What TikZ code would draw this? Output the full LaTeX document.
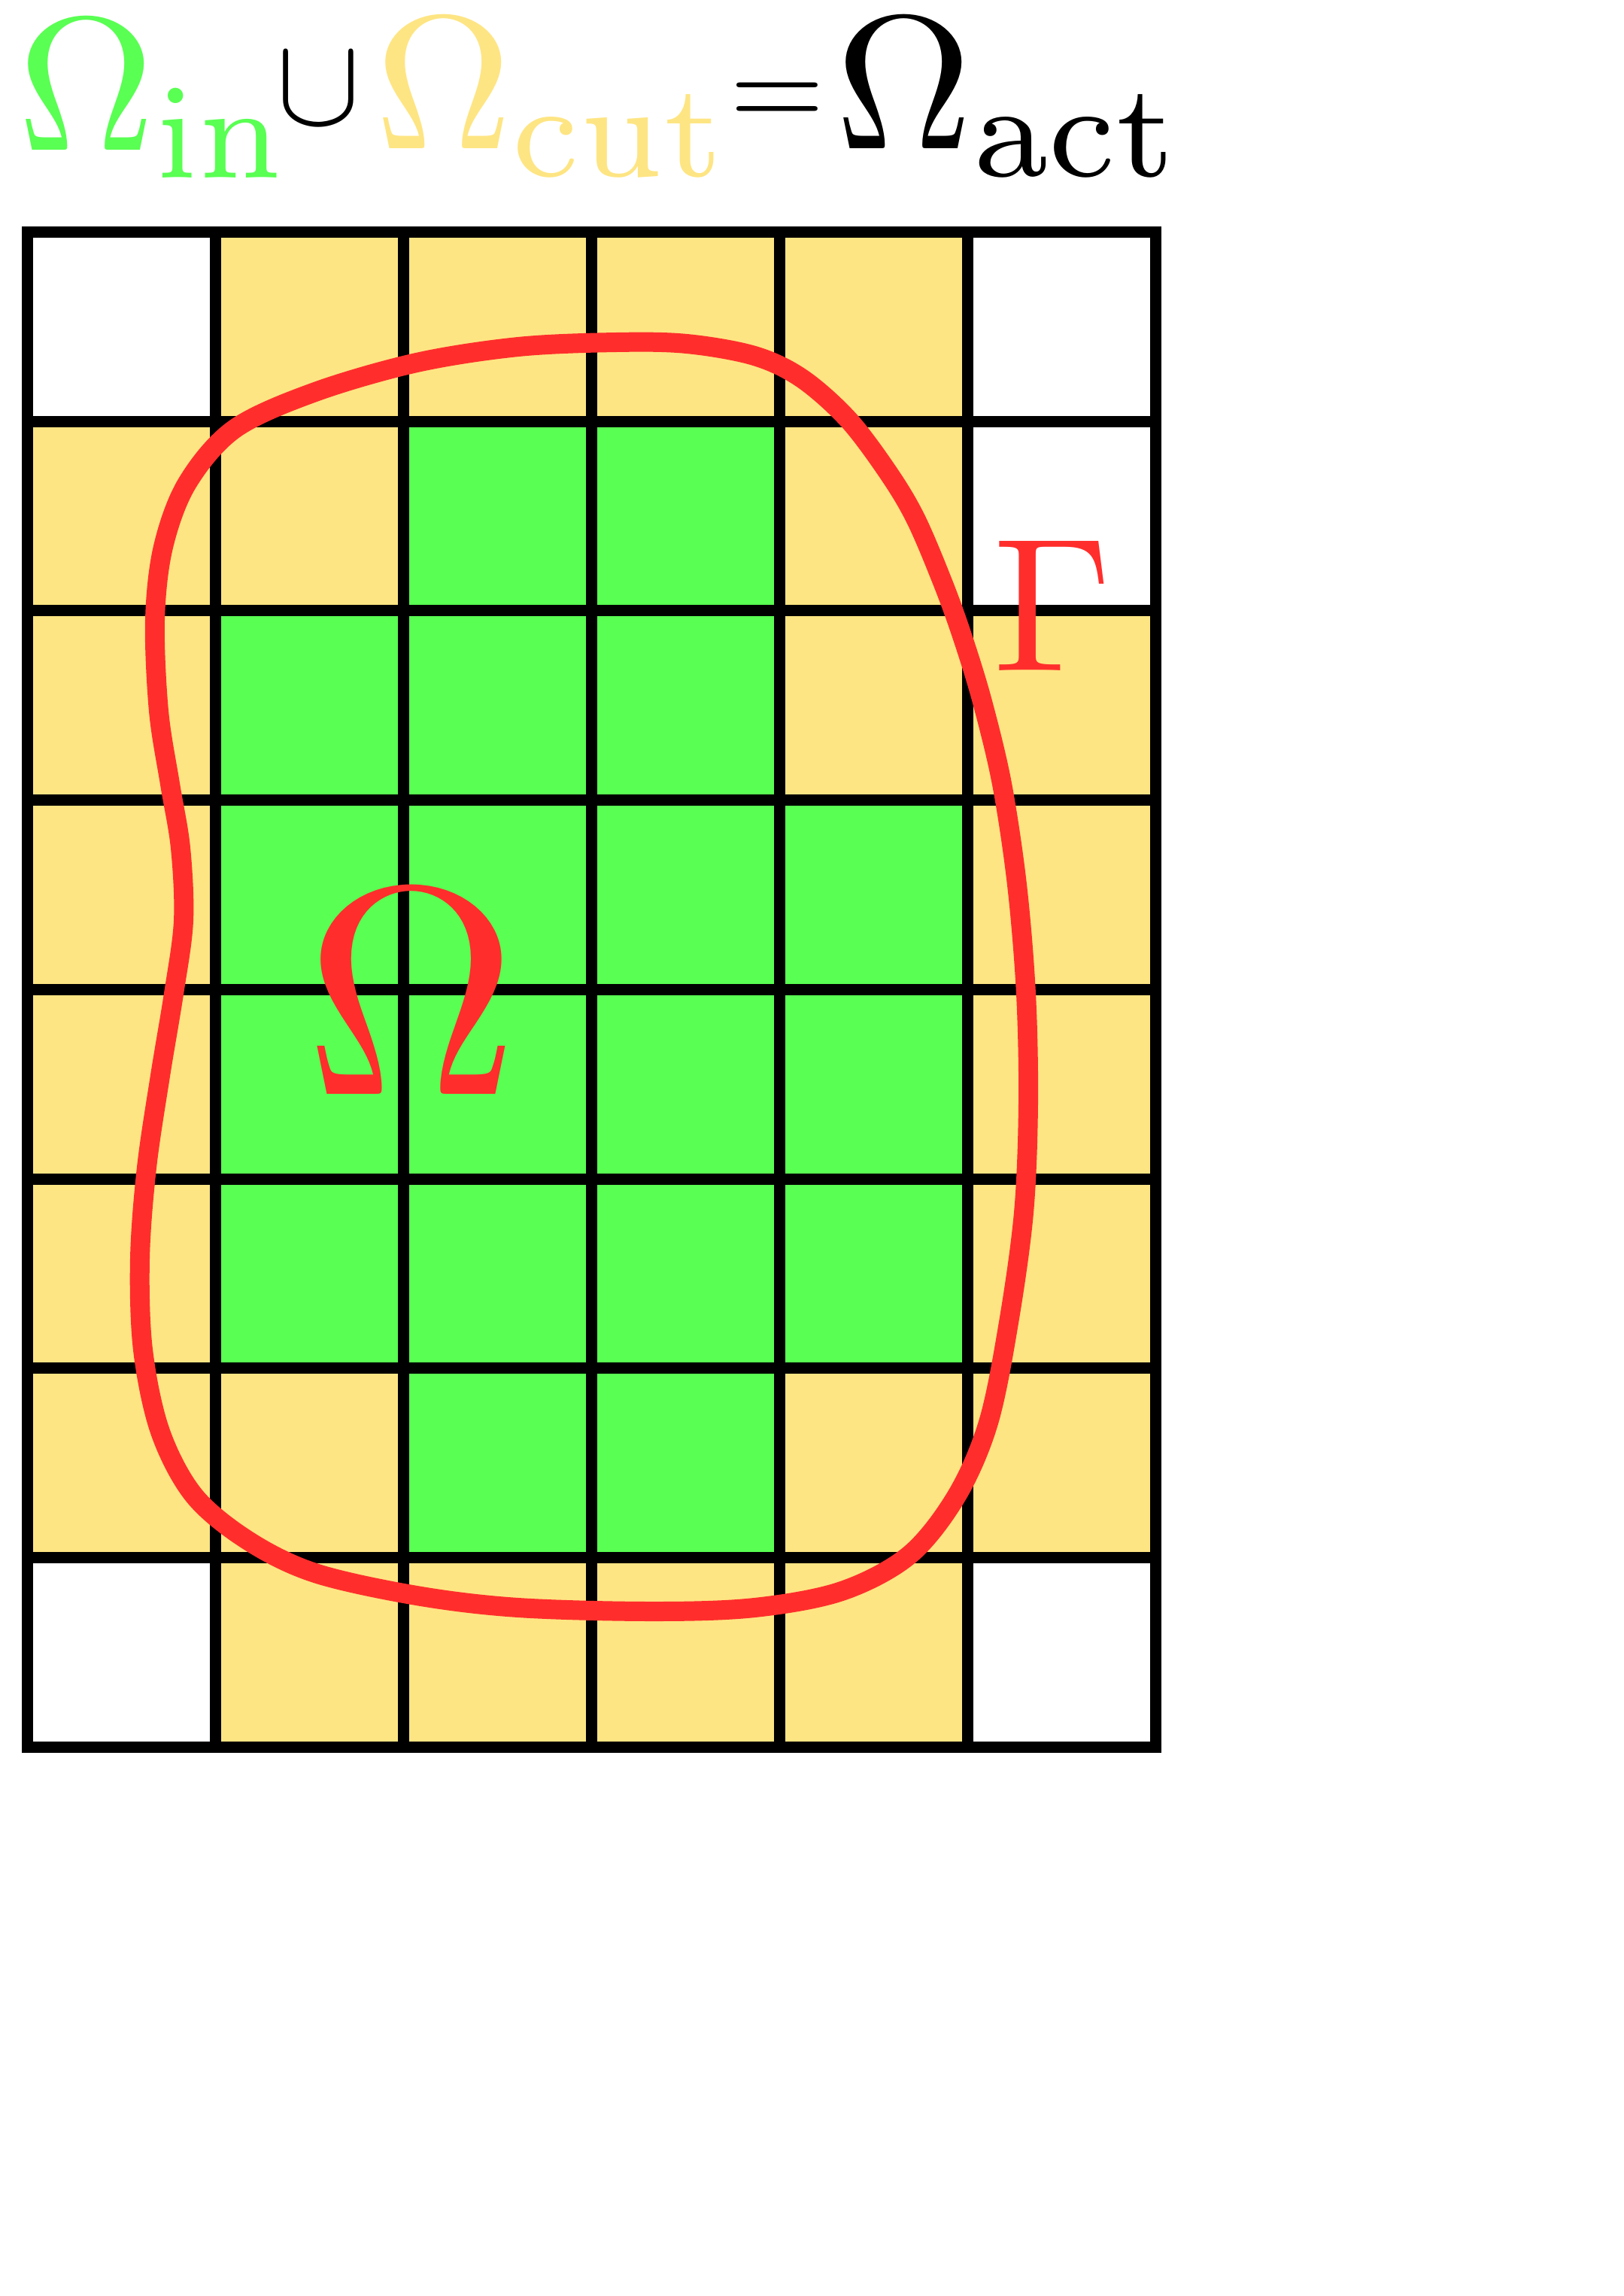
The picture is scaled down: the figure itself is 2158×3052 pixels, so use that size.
\documentclass[tikz,border=0pt]{standalone}
\definecolor{cgreen}{RGB}{89,255,82}
\definecolor{cyellow}{RGB}{254,229,131}
\definecolor{cred}{RGB}{255,46,44}
\begin{document}
\begin{tikzpicture}[x=0.5pt,y=-0.5pt,
  gridline/.style={line width=7.5pt,draw=black},
  boundary/.style={line width=13pt,draw=cred,line join=round},
  lbl/.style={anchor=base west,inner sep=0pt,outer sep=0pt}]
\useasboundingbox (0,0) rectangle (2158,3052);
% cell fills
\foreach \i/\j in {1/0,2/0,3/0,4/0,0/1,1/1,4/1,0/2,4/2,5/2,0/3,5/3,0/4,5/4,0/5,5/5,0/6,1/6,4/6,5/6,1/7,2/7,3/7,4/7}
  \fill[cyellow] ({36.5+250*\i},{308.5+251.7*\j}) rectangle +(250,251.7);
\foreach \i/\j in {2/1,3/1,1/2,2/2,3/2,1/3,2/3,3/3,4/3,1/4,2/4,3/4,4/4,1/5,2/5,3/5,4/5,2/6,3/6}
  \fill[cgreen] ({36.5+250*\i},{308.5+251.7*\j}) rectangle +(250,251.7);
% grid
\foreach \i in {1,...,5}
  \draw[gridline] ({36.5+250*\i},308.5) -- ({36.5+250*\i},2322.1);
\foreach \j in {1,...,7}
  \draw[gridline] (36.5,{308.5+251.7*\j}) -- (1536.5,{308.5+251.7*\j});
\draw[gridline] (36.5,308.5) rectangle (1536.5,2322.1);
% boundary curve
\draw[boundary] plot[smooth cycle, tension=0.55] coordinates {
 (819,455) (689,461) (554,482) (419,521) (312,570) (249,642) (217,727) (206,824)
 (211,945) (226,1042) (240,1127) (244,1224) (231,1321) (213,1430) (195,1552)
 (186,1673) (190,1794) (213,1903) (258,1988) (330,2048) (419,2091) (554,2121)
 (689,2137) (868,2142) (1003,2137) (1119,2115) (1209,2067) (1272,1988)
 (1314,1891) (1341,1758) (1361,1612) (1367,1467) (1364,1321) (1352,1176)
 (1332,1042) (1306,933) (1280,848) (1254,776) (1218,691) (1182,630)
 (1128,558) (1066,503) (1003,473) (913,457)};
% labels
\node[lbl,scale=12.65,text=cgreen] (omin) at (24,199) {$\Omega_{\mathrm{in}}$};
\node[lbl,scale=8.4] (cup) at (367,165) {$\cup$};
\node[lbl,scale=12.65,text=cyellow] (omcut) at (498,197) {$\Omega_{\mathrm{cut}}$};
\node[lbl,scale=8.1] (eq) at (970,169) {$=$};
\node[lbl,scale=12.65] (omact) at (1110,197) {$\Omega_{\mathrm{act}}$};
\node[lbl,scale=12.65,text=cred] (gamma) at (1320,891) {$\Gamma$};
\node[lbl,scale=19.75,text=cred] (omega) at (404,1454) {$\Omega$};
\end{tikzpicture}
\end{document}
